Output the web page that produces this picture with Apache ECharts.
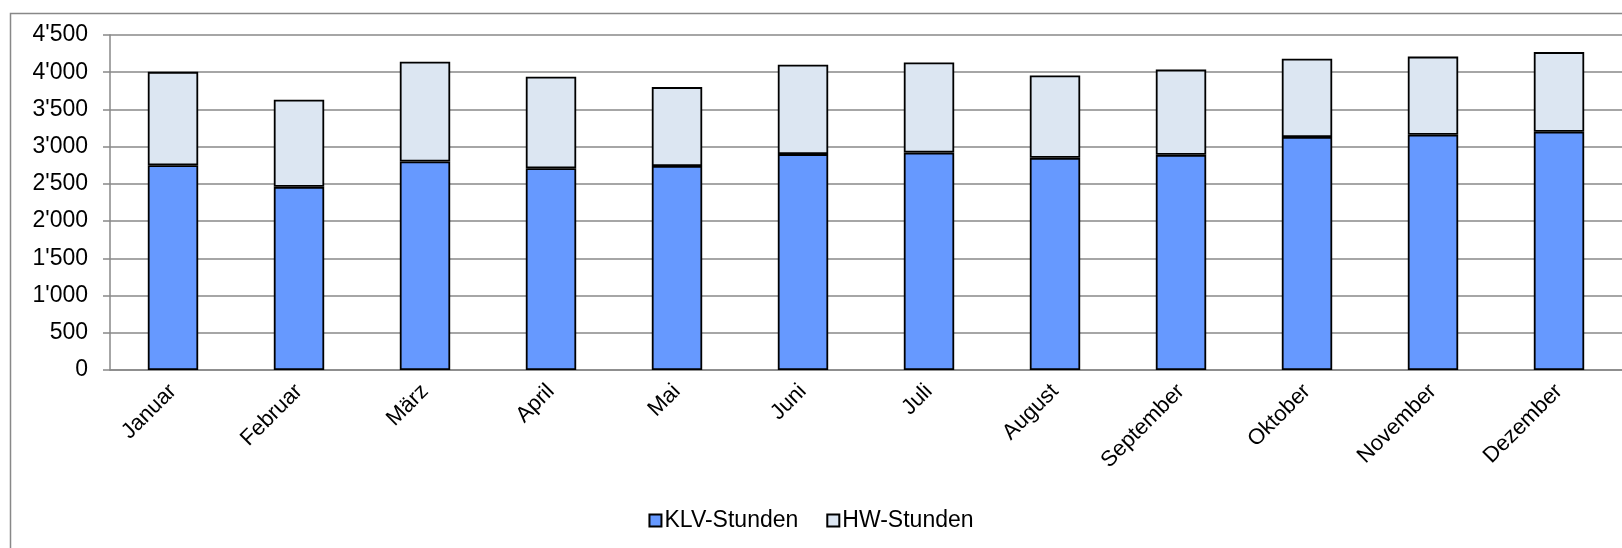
<!DOCTYPE html>
<html lang="de" style="height: 100%">
<head>
  <meta charset="utf-8">
</head>
<body style="height: 100%; margin: 0; background: #fff">
  <div id="container" style="width: 1622px; height: 548px"></div>
  <script type="text/javascript" src="https://fastly.jsdelivr.net/npm/echarts@6.0.0/dist/echarts.min.js"></script>
  <script type="text/javascript">
const months = ['Januar', 'Februar', 'März', 'April', 'Mai', 'Juni', 'Juli', 'August', 'September', 'Oktober', 'November', 'Dezember'];
const klvStunden = [2750, 2460, 2800, 2710, 2740, 2900, 2920, 2850, 2890, 3130, 3160, 3200];
const hwStunden = [1255, 1170, 1340, 1230, 1060, 1200, 1210, 1105, 1145, 1050, 1050, 1070];

var dom = document.getElementById('container');
var myChart = echarts.init(dom, null, { renderer: 'canvas' });

const font = 'Liberation Sans';
const gray = '#888888';

function fmt(v) {
  // thousands separator as apostrophe
  return String(v).replace(/\B(?=(\d{3})+(?!\d))/g, "'");
}

var option = {
  animation: false,
  backgroundColor: '#fff',
  textStyle: { fontFamily: font },
  graphic: [
    {
      type: 'rect',
      left: 8, top: 11,
      shape: { width: 1700, height: 700 },
      style: { fill: 'none', stroke: gray, lineWidth: 1.5 },
      silent: true
    }
  ],
  legend: {
    bottom: 11,
    left: 'center',
    itemWidth: 12,
    itemHeight: 12,
    itemGap: 28,
    icon: 'rect',
    textStyle: { fontFamily: font, fontSize: 23, color: '#000', padding: [0, 0, 0, -2] },
    data: ['KLV-Stunden', 'HW-Stunden']
  },
  grid: { left: 110, top: 35, width: 1519, height: 335 },
  xAxis: {
    type: 'category',
    data: months,
    axisLine: { lineStyle: { color: gray, width: 1.5 } },
    axisTick: { alignWithLabel: false, length: 6, lineStyle: { color: gray, width: 1.5 } },
    axisLabel: { rotate: 45, margin: 18, fontSize: 22, color: '#000', fontFamily: font, interval: 0 }
  },
  yAxis: {
    type: 'value',
    min: 0, max: 4500, interval: 500,
    axisLine: { show: true, lineStyle: { color: gray, width: 1.5 } },
    axisTick: { show: true, length: 7, lineStyle: { color: gray, width: 1.5 } },
    splitLine: { lineStyle: { color: gray, width: 1.5 } },
    axisLabel: { fontSize: 23, color: '#000', fontFamily: font, margin: 22, formatter: fmt }
  },
  series: [
    {
      name: 'KLV-Stunden',
      type: 'bar',
      stack: 'total',
      barWidth: '40%',
      data: klvStunden,
      itemStyle: { color: '#6699FF', borderColor: '#000', borderWidth: 1.8 }
    },
    {
      name: 'HW-Stunden',
      type: 'bar',
      stack: 'total',
      barWidth: '40%',
      data: hwStunden,
      itemStyle: { color: '#DCE6F2', borderColor: '#000', borderWidth: 1.8 }
    }
  ]
};

myChart.setOption(option);
window.addEventListener('resize', myChart.resize);
  </script>
</body>
</html>
